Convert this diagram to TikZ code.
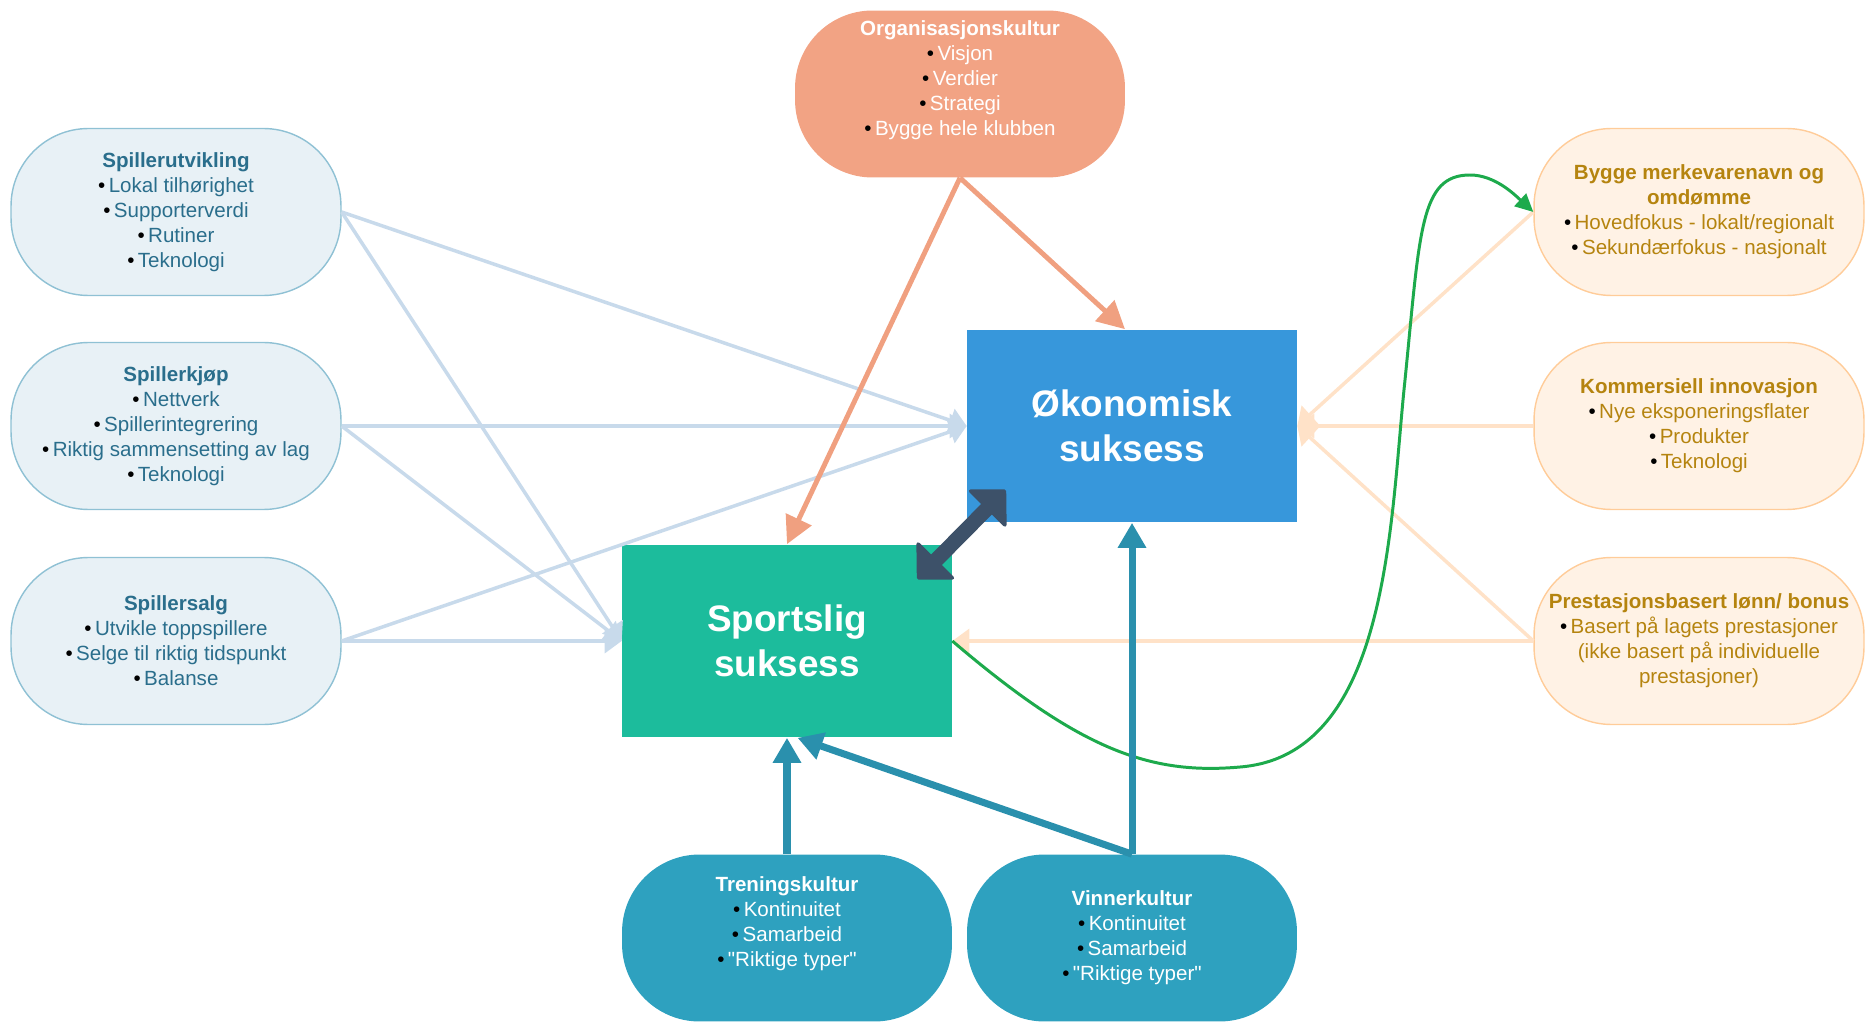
\documentclass[tikz,border=0pt]{standalone}
\usepackage{fontspec}
\setmainfont{Liberation Sans}
\usetikzlibrary{arrows.meta}

\definecolor{spillerfyll}{HTML}{E8F1F6}
\definecolor{spillerkant}{HTML}{8FC1D4}
\definecolor{spillertekst}{HTML}{2A6E8C}
\definecolor{komfyll}{HTML}{FFF2E5}
\definecolor{komkant}{HTML}{FFCC99}
\definecolor{komtekst}{HTML}{B5840F}
\definecolor{orgfyll}{HTML}{F2A384}
\definecolor{kulturfyll}{HTML}{2EA1BF}
\definecolor{okonomifyll}{HTML}{3797DB}
\definecolor{sportfyll}{HTML}{1CBC9C}
\definecolor{dobbel}{HTML}{3D5169}
\definecolor{blapil}{HTML}{C8DAEB}
\definecolor{ferskenpil}{HTML}{FFE2C8}
\definecolor{oransjepil}{HTML}{F0A080}
\definecolor{turkispil}{HTML}{2A90AD}
\definecolor{gronnpil}{HTML}{1DAA4C}

\newcommand{\pkt}{{\color{black}\textbullet}\,}

\begin{document}
\begin{tikzpicture}[x=0.02cm,y=-0.02cm]
\tikzstyle{pill} = [rectangle,rounded corners=1.55cm,minimum width=6.6cm,minimum height=3.34cm,align=center,inner sep=0pt,font=\fontsize{11.7}{14.2}\selectfont]
\tikzstyle{spiller} = [pill,draw=spillerkant,fill=spillerfyll,text=spillertekst,line width=0.8pt]
\tikzstyle{kom} = [pill,draw=komkant,fill=komfyll,text=komtekst,line width=0.8pt]
\tikzstyle{kultur} = [pill,fill=kulturfyll,text=white]
\tikzstyle{maal} = [rectangle,minimum width=6.6cm,minimum height=3.86cm,align=center,text=white,font=\fontsize{21}{25.6}\selectfont\bfseries]
\tikzstyle{bla} = [blapil,line width=2pt,-{Triangle[length=0.34cm,width=0.48cm]}]
\tikzstyle{fersken} = [ferskenpil,line width=2pt,-{Triangle[length=0.34cm,width=0.48cm]}]
\tikzstyle{oransje} = [oransjepil,line width=2.8pt,-{Triangle[length=0.55cm,width=0.55cm]}]
\tikzstyle{turkis} = [turkispil,line width=4pt,-{Triangle[length=0.5cm,width=0.54cm]}]
\tikzstyle{gronn} = [gronnpil,line width=1.7pt,-{Triangle[length=0.36cm,width=0.34cm]}]
\tikzstyle{dbl} = [dobbel,line width=0.3cm,{Triangle[length=0.56cm,width=1.12cm,round,line width=2pt]}-{Triangle[length=0.56cm,width=1.12cm,round,line width=2pt]}]

\useasboundingbox (0,0) rectangle (1865,1023);

\node[pill,fill=orgfyll,text=white](org) at (960,94) {\textbf{Organisasjonskultur}\\ \pkt Visjon\\ \pkt Verdier\\ \pkt Strategi\\ \pkt Bygge hele klubben\\ \strut};

\node[spiller](utvikling) at (176,212) {\textbf{Spillerutvikling}\\ \pkt Lokal tilhørighet\\ \pkt Supporterverdi\\ \pkt Rutiner\\ \pkt Teknologi};
\node[spiller](kjop) at (176,426) {\textbf{Spillerkjøp}\\ \pkt Nettverk\\ \pkt Spillerintegrering\\ \pkt Riktig sammensetting av lag\\ \pkt Teknologi};
\node[spiller](salg) at (176,641) {\textbf{Spillersalg}\\ \pkt Utvikle toppspillere\\ \pkt Selge til riktig tidspunkt\\ \pkt Balanse};

\node[kom](merkevare) at (1699,212) {\textbf{Bygge merkevarenavn og}\\ \textbf{omdømme}\\ \pkt Hovedfokus - lokalt/regionalt\\ \pkt Sekundærfokus - nasjonalt};
\node[kom](innovasjon) at (1699,426) {\textbf{Kommersiell innovasjon}\\ \pkt Nye eksponeringsflater\\ \pkt Produkter\\ \pkt Teknologi};
\node[kom](bonus) at (1699,641) {\textbf{Prestasjonsbasert lønn/ bonus}\\ \pkt Basert på lagets prestasjoner\\ (ikke basert på individuelle\\ prestasjoner)};

\node[maal,fill=okonomifyll](okonomi) at (1132,426) {Økonomisk\\suksess};
\node[maal,fill=sportfyll](sport) at (787,641) {Sportslig\\suksess};

\node[kultur](trening) at (787,938) {\textbf{Treningskultur}\\ \pkt Kontinuitet\\ \pkt Samarbeid\\ \pkt \textquotedbl Riktige typer\textquotedbl\\ \strut};
\node[kultur](vinner) at (1132,938) {\textbf{Vinnerkultur}\\ \pkt Kontinuitet\\ \pkt Samarbeid\\ \pkt \textquotedbl Riktige typer\textquotedbl};

\draw[bla] (utvikling.east) -- (okonomi.west);
\draw[bla] (utvikling.east) -- (sport.west);
\draw[bla] (kjop.east) -- (okonomi.west);
\draw[bla] (kjop.east) -- (sport.west);
\draw[bla] (salg.east) -- (okonomi.west);
\draw[bla] (salg.east) -- (sport.west);

\draw[fersken] (merkevare.west) -- (okonomi.east);
\draw[fersken] (innovasjon.west) -- (okonomi.east);
\draw[fersken] (bonus.west) -- (okonomi.east);
\draw[fersken] (bonus.west) -- (sport.east);

\draw[oransje] (org.south) -- (sport.north);
\draw[oransje] (org.south) -- ([xshift=-4]okonomi.north);

\draw[gronn] (sport.east) .. controls (1080,750) and (1150,775) .. (1240,767)
  .. controls (1390,755) and (1390,520) .. (1405,380)
  .. controls (1420,230) and (1420,175) .. (1470,175)
  .. controls (1495,175) and (1515,195) .. (merkevare.west);

\draw[turkis] (trening.north) -- (sport.south);
\draw[turkis] (vinner.north) -- (okonomi.south);
\draw[turkis] (vinner.north) -- ([xshift=6]sport.south);

\draw[dbl] ([shift={(-35,35)}]sport.north east) -- ([shift={(39,-33)}]okonomi.south west);

\end{tikzpicture}
\end{document}
